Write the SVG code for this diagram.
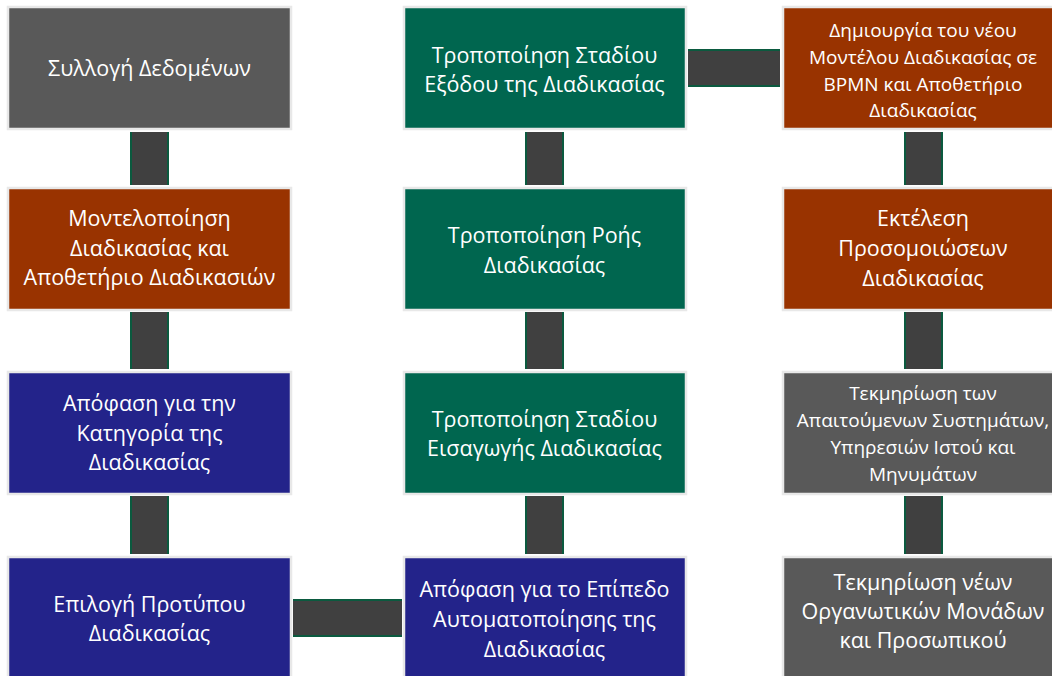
<svg xmlns="http://www.w3.org/2000/svg" width="1052" height="676" viewBox="0 0 1052 676">
<style>
.box{stroke:#e8e8e8;stroke-width:2.5}
.gray{fill:#595959}
.green{fill:#00664f}
.brown{fill:#993300}
.blue{fill:#23238a}
.conn{fill:#404040}
.edge{fill:#0b5a3f}
text{font-family:"Open Sans","Noto Sans","DejaVu Sans",sans-serif;fill:#ffffff;text-anchor:middle}
.t21{font-size:21.5px}
.t18{font-size:19px}
.t17{font-size:19px}
</style>
<rect width="1052" height="676" fill="#ffffff"/>
<g id="connectors">
  <rect class="conn" x="130" y="132" width="39" height="53"/>
  <rect class="edge" x="130" y="132" width="2" height="53"/><rect class="edge" x="167" y="132" width="2" height="53"/>
  <rect class="conn" x="130" y="312" width="39" height="57"/>
  <rect class="edge" x="130" y="312" width="2" height="57"/><rect class="edge" x="167" y="312" width="2" height="57"/>
  <rect class="conn" x="130" y="496" width="39" height="58"/>
  <rect class="edge" x="130" y="496" width="2" height="58"/><rect class="edge" x="167" y="496" width="2" height="58"/>
  <rect class="conn" x="525" y="132" width="39" height="53"/>
  <rect class="edge" x="525" y="132" width="2" height="53"/><rect class="edge" x="562" y="132" width="2" height="53"/>
  <rect class="conn" x="525" y="312" width="39" height="57"/>
  <rect class="edge" x="525" y="312" width="2" height="57"/><rect class="edge" x="562" y="312" width="2" height="57"/>
  <rect class="conn" x="525" y="496" width="39" height="58"/>
  <rect class="edge" x="525" y="496" width="2" height="58"/><rect class="edge" x="562" y="496" width="2" height="58"/>
  <rect class="conn" x="904" y="132" width="39" height="53"/>
  <rect class="edge" x="904" y="132" width="2" height="53"/><rect class="edge" x="941" y="132" width="2" height="53"/>
  <rect class="conn" x="904" y="312" width="39" height="57"/>
  <rect class="edge" x="904" y="312" width="2" height="57"/><rect class="edge" x="941" y="312" width="2" height="57"/>
  <rect class="conn" x="904" y="496" width="39" height="58"/>
  <rect class="edge" x="904" y="496" width="2" height="58"/><rect class="edge" x="941" y="496" width="2" height="58"/>
  <rect class="conn" x="688" y="49" width="92" height="38"/>
  <rect class="edge" x="688" y="49" width="92" height="2"/><rect class="edge" x="688" y="85" width="92" height="2"/>
  <rect class="conn" x="293" y="599" width="109" height="38"/>
  <rect class="edge" x="293" y="599" width="109" height="2"/><rect class="edge" x="293" y="635" width="109" height="2"/>
</g>
<g id="n1">
  <rect class="box gray" x="8" y="7" width="283" height="122"/>
  <text class="t21" x="149.5" y="76">Συλλογή Δεδομένων</text>
</g>
<g id="n2">
  <rect class="box brown" x="8" y="188" width="283" height="122"/>
  <text class="t21" x="149.5" y="226">Μοντελοποίηση</text>
  <text class="t21" x="149.5" y="256">Διαδικασίας και</text>
  <text class="t21" x="149.5" y="285">Αποθετήριο Διαδικασιών</text>
</g>
<g id="n3">
  <rect class="box blue" x="8" y="372" width="283" height="122"/>
  <text class="t21" x="149.5" y="411">Απόφαση για την</text>
  <text class="t21" x="149.5" y="441">Κατηγορία της</text>
  <text class="t21" x="149.5" y="470">Διαδικασίας</text>
</g>
<g id="n4">
  <rect class="box blue" x="8" y="557" width="283" height="122"/>
  <text class="t21" x="149.5" y="612">Επιλογή Προτύπου</text>
  <text class="t21" x="149.5" y="641">Διαδικασίας</text>
</g>
<g id="n5">
  <rect class="box blue" x="404" y="557" width="282" height="122"/>
  <text class="t21" x="544.5" y="597">Απόφαση για το Επίπεδο</text>
  <text class="t21" x="544.5" y="627">Αυτοματοποίησης της</text>
  <text class="t21" x="544.5" y="657">Διαδικασίας</text>
</g>
<g id="n6">
  <rect class="box green" x="404" y="372" width="282" height="122"/>
  <text class="t21" x="544.5" y="427">Τροποποίηση Σταδίου</text>
  <text class="t21" x="544.5" y="456">Εισαγωγής Διαδικασίας</text>
</g>
<g id="n7">
  <rect class="box green" x="404" y="188" width="282" height="122"/>
  <text class="t21" x="544.5" y="243">Τροποποίηση Ροής</text>
  <text class="t21" x="544.5" y="273">Διαδικασίας</text>
</g>
<g id="n8">
  <rect class="box green" x="404" y="7" width="282" height="122"/>
  <text class="t21" x="544.5" y="63">Τροποποίηση Σταδίου</text>
  <text class="t21" x="544.5" y="92">Εξόδου της Διαδικασίας</text>
</g>
<g id="n9">
  <rect class="box brown" x="783" y="7" width="282" height="122"/>
  <text class="t18" x="923" y="37">Δημιουργία του νέου</text>
  <text class="t18" x="923" y="64">Μοντέλου Διαδικασίας σε</text>
  <text class="t18" x="923" y="91">BPMN και Αποθετήριο</text>
  <text class="t18" x="923" y="117">Διαδικασίας</text>
</g>
<g id="n10">
  <rect class="box brown" x="783" y="188" width="282" height="122"/>
  <text class="t21" x="923" y="226">Εκτέλεση</text>
  <text class="t21" x="923" y="256">Προσομοιώσεων</text>
  <text class="t21" x="923" y="286">Διαδικασίας</text>
</g>
<g id="n11">
  <rect class="box gray" x="783" y="372" width="282" height="122"/>
  <text class="t17" x="923" y="400">Τεκμηρίωση των</text>
  <text class="t17" x="923" y="427">Απαιτούμενων Συστημάτων,</text>
  <text class="t17" x="923" y="454">Υπηρεσιών Ιστού και</text>
  <text class="t17" x="923" y="481">Μηνυμάτων</text>
</g>
<g id="n12">
  <rect class="box gray" x="783" y="557" width="282" height="122"/>
  <text class="t21" x="923" y="590">Τεκμηρίωση νέων</text>
  <text class="t21" x="923" y="619">Οργανωτικών Μονάδων</text>
  <text class="t21" x="923" y="648">και Προσωπικού</text>
</g>
</svg>
